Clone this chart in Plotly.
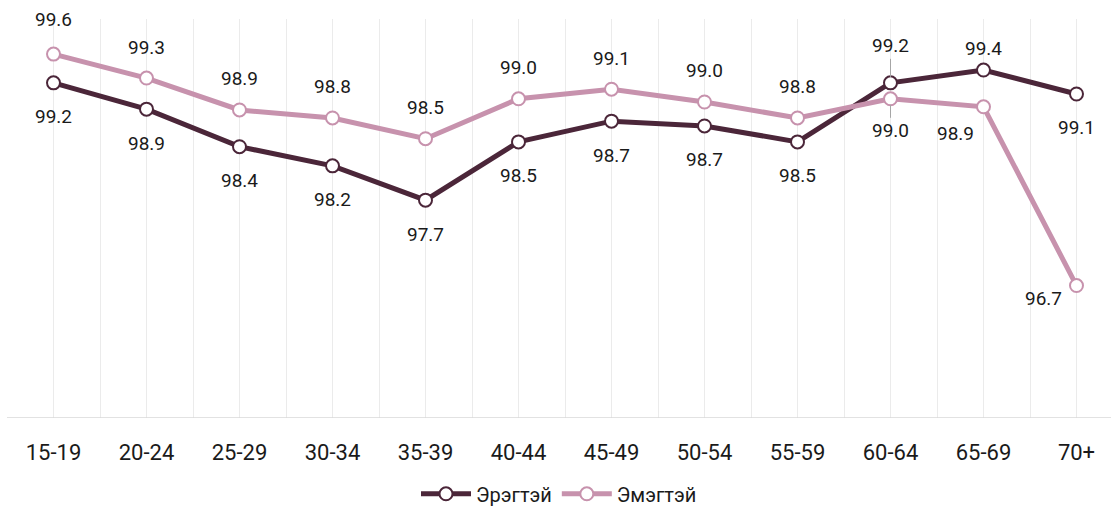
import plotly.graph_objects as go

categories = ["15-19", "20-24", "25-29", "30-34", "35-39", "40-44",
              "45-49", "50-54", "55-59", "60-64", "65-69", "70+"]
male_values = [99.20, 98.87, 98.40, 98.16, 97.73, 98.46,
               98.72, 98.66, 98.46, 99.20, 99.36, 99.06]
female_values = [99.56, 99.26, 98.86, 98.76, 98.50, 99.00,
                 99.12, 98.96, 98.76, 99.00, 98.90, 96.66]
series_names = ["Эрэгтэй", "Эмэгтэй"]

DARK = "#4b2639"
LIGHT = "#c792ad"
FONT = "Roboto, Liberation Sans, sans-serif"

x = list(range(len(categories)))

fig = go.Figure()
for name, vals, col in [(series_names[0], male_values, DARK),
                        (series_names[1], female_values, LIGHT)]:
    fig.add_trace(go.Scatter(
        x=x, y=vals, name=name, mode="lines+markers",
        line=dict(color=col, width=5),
        marker=dict(size=13, color="white", line=dict(color=col, width=2)),
        hoverinfo="skip", cliponaxis=False,
    ))

# label placement (pixel offsets): (xshift, yshift, leader)
male_pos = [(0, -34, False)] * 9 + [(0, 37, True), (0, 22, False), (0, -33, False)]
female_pos = [(0, 35, False)] + [(0, 31, False)] * 8 + [(0, -32, True), (-28, -27, False), (-33, -13, False)]

annotations = []
for vals, pos in [(male_values, male_pos), (female_values, female_pos)]:
    for i, (v, (dx, dy, leader)) in enumerate(zip(vals, pos)):
        txt = f"{v:.1f}"
        if leader:
            annotations.append(dict(
                x=i, y=v, xref="x", yref="y", text=txt, showarrow=True,
                ax=dx, ay=-dy, axref="pixel", ayref="pixel",
                arrowhead=0, arrowwidth=1, arrowcolor="#a6a6a6", standoff=6,
                font=dict(family=FONT, size=19, color="#1a1a1a")))
        else:
            annotations.append(dict(
                x=i, y=v, xref="x", yref="y", text=txt, showarrow=False,
                xshift=dx, yshift=dy,
                font=dict(family=FONT, size=19, color="#1a1a1a")))

grid_vals = [i * 0.5 - 0.5 for i in range(25)]

fig.update_layout(
    width=1111, height=506,
    margin=dict(l=7, r=0, t=19, b=88, autoexpand=False),
    paper_bgcolor="white", plot_bgcolor="white",
    font=dict(family=FONT, color="#1a1a1a"),
    showlegend=True,
    legend=dict(orientation="h", x=0.5, xanchor="center", y=-0.19, yanchor="middle",
                font=dict(family=FONT, size=20, color="#1a1a1a"),
                itemwidth=50),
    annotations=annotations,
    xaxis=dict(
        range=[-0.5, 11.371], automargin=False,
        tickmode="array", tickvals=x, ticktext=categories,
        tickfont=dict(family=FONT, size=22, color="#1a1a1a"),
        showgrid=False, zeroline=False,
        showline=False, ticks="", ticklabelstandoff=19,
        minor=dict(tickmode="array", tickvals=grid_vals, showgrid=True,
                   gridcolor="#ebebeb", gridwidth=1, ticks=""),
        fixedrange=True,
    ),
    yaxis=dict(
        range=[95, 100], showgrid=False, zeroline=False, showticklabels=False,
        showline=False, ticks="", fixedrange=True, automargin=False,
    ),
    shapes=[dict(type="line", xref="paper", yref="y", x0=0, x1=1, y0=95, y1=95,
                 line=dict(color="#d9d9d9", width=1.5), layer="above")],
)

fig.write_html("out.html", config={"displayModeBar": False},
               post_script="document.body.style.margin='0';document.body.style.overflow='hidden';")
